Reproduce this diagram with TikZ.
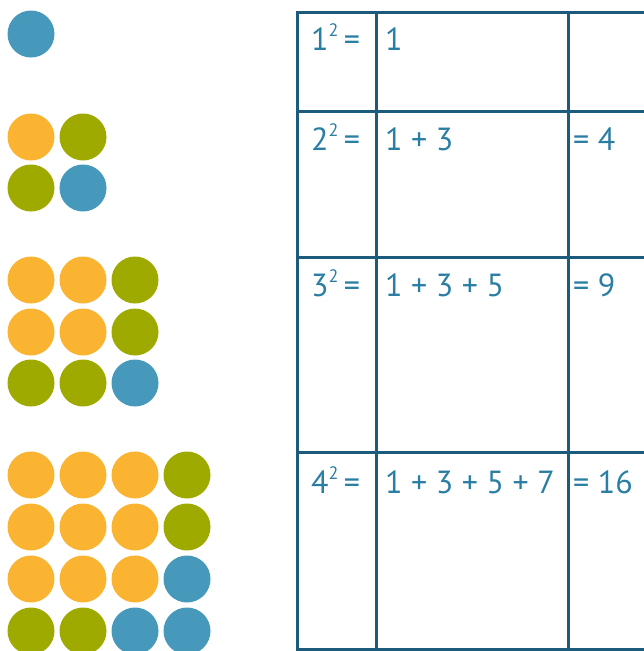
\documentclass[tikz,border=0pt]{standalone}
\usepackage{fontspec}
\setmainfont{PT Sans}
\definecolor{cblue}{HTML}{4699BA}
\definecolor{corange}{HTML}{FBB432}
\definecolor{cgreen}{HTML}{9FAA00}
\definecolor{gridc}{HTML}{1C5B7C}
\definecolor{txtc}{HTML}{2A7DA3}
\tikzset{
  dot/.style={circle, inner sep=0pt, minimum size=47pt, draw=none},
  B/.style={dot, fill=cblue},
  O/.style={dot, fill=corange},
  G/.style={dot, fill=cgreen},
  cell/.style={anchor=base west, inner sep=0pt, text=txtc, font=\fontsize{32}{35}\selectfont},
  gridline/.style={draw=gridc, line width=3pt}
}
\newcommand{\sq}[1]{#1\raisebox{0.42em}{\fontsize{18}{19}\selectfont 2}\,=}
\begin{document}
\begin{tikzpicture}[x=1pt,y=-1pt]
\useasboundingbox (0,0) rectangle (643,651);
% dots
\node[B] (a11) at (31,34) {};
\node[O] (b11) at (31,137) {};
\node[G] (b12) at (83,137) {};
\node[G] (b21) at (31,188) {};
\node[B] (b22) at (83,188) {};
\node[O] (c11) at (31,280) {};
\node[O] (c12) at (83,280) {};
\node[G] (c13) at (135,280) {};
\node[O] (c21) at (31,332) {};
\node[O] (c22) at (83,332) {};
\node[G] (c23) at (135,332) {};
\node[G] (c31) at (31,383) {};
\node[G] (c32) at (83,383) {};
\node[B] (c33) at (135,383) {};
\node[O] (d11) at (31,475) {};
\node[O] (d12) at (83,475) {};
\node[O] (d13) at (135,475) {};
\node[G] (d14) at (187,475) {};
\node[O] (d21) at (31,527) {};
\node[O] (d22) at (83,527) {};
\node[O] (d23) at (135,527) {};
\node[G] (d24) at (187,527) {};
\node[O] (d31) at (31,579) {};
\node[O] (d32) at (83,579) {};
\node[O] (d33) at (135,579) {};
\node[B] (d34) at (187,579) {};
\node[G] (d41) at (31,631) {};
\node[G] (d42) at (83,631) {};
\node[B] (d43) at (135,631) {};
\node[B] (d44) at (187,631) {};
% grid
\draw[gridline] (660,12) -- (297,12) -- (297,649) -- (660,649);
\draw[gridline] (297,111) -- (660,111);
\draw[gridline] (297,257) -- (660,257);
\draw[gridline] (297,452) -- (660,452);
\draw[gridline] (376,12) -- (376,649);
\draw[gridline] (568,12) -- (568,649);
% texts
\node[cell] (s1) at (311,50) {\sq{1}};
\node[cell] (e1) at (385,50) {1};
\node[cell] (s2) at (311,150) {\sq{2}};
\node[cell] (e2) at (385,150) {1 + 3};
\node[cell] (r2) at (573,150) {= 4};
\node[cell] (s3) at (311,296) {\sq{3}};
\node[cell] (e3) at (385,296) {1 + 3 + 5};
\node[cell] (r3) at (573,296) {= 9};
\node[cell] (s4) at (311,493) {\sq{4}};
\node[cell] (e4) at (385,493) {1 + 3 + 5 + 7};
\node[cell] (r4) at (573,493) {= 16};
\end{tikzpicture}
\end{document}
